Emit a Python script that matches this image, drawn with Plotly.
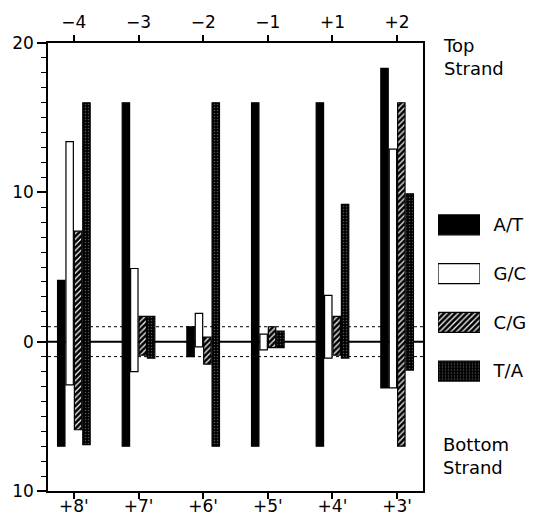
import plotly.graph_objects as go

# ---- data ----
positions = [0, 1, 2, 3, 4, 5]
top_labels = ["\u22124", "\u22123", "\u22122", "\u22121", "+1", "+2"]
bottom_labels = ["+8'", "+7'", "+6'", "+5'", "+4'", "+3'"]
series_names = ["A/T", "G/C", "C/G", "T/A"]

at_top = [4.1, 16.0, 1.0, 16.0, 16.0, 18.3]
at_bottom = [-7.0, -7.0, -1.0, -7.0, -7.0, -3.1]
gc_top = [13.4, 4.9, 1.9, 0.5, 3.1, 12.9]
gc_bottom = [-2.9, -2.0, -0.35, -0.55, -1.1, -3.1]
cg_top = [7.4, 1.7, 0.3, 1.0, 1.7, 16.0]
cg_bottom = [-5.9, -0.9, -1.5, -0.4, -0.9, -7.0]
ta_top = [16.0, 1.7, 16.0, 0.7, 9.2, 9.9]
ta_bottom = [-6.9, -1.1, -7.0, -0.4, -1.1, -1.9]

y_tickvals = [-10, 0, 10, 20]
y_ticktext = ["10", "0", "10", "20"]

FONT = "DejaVu Sans"

styles = {
    "A/T": dict(color="black", pattern=dict(shape="")),
    "G/C": dict(color="white", pattern=dict(shape="")),
    "C/G": dict(color="black", pattern=dict(shape="/", bgcolor="white", fgcolor="black",
                                            size=4, solidity=0.7, fillmode="replace")),
    "T/A": dict(color="black", pattern=dict(shape=".", bgcolor="black", fgcolor="#555555",
                                            size=3, solidity=0.2, fillmode="replace")),
}

fig = go.Figure()

for name, tops, bots in [("A/T", at_top, at_bottom), ("G/C", gc_top, gc_bottom),
                         ("C/G", cg_top, cg_bottom), ("T/A", ta_top, ta_bottom)]:
    st = styles[name]
    fig.add_trace(go.Bar(
        x=positions,
        y=[t - b for t, b in zip(tops, bots)],
        base=bots,
        name=name,
        marker=dict(color=st["color"], pattern=st["pattern"],
                    line=dict(color="black", width=1.2)),
        showlegend=False,
    ))

# invisible trace to activate top axis
fig.add_trace(go.Scatter(x=[None], y=[None], xaxis="x3", yaxis="y",
                         showlegend=False, hoverinfo="skip"))

# legend drawn as a small subplot of horizontal bars
for i, name in enumerate(series_names):
    st = styles[name]
    fig.add_trace(go.Bar(
        x=[1], y=[i], base=[0], orientation="h", width=0.41,
        xaxis="x2", yaxis="y2", offsetgroup="legend", showlegend=False,
        marker=dict(color=st["color"], pattern=st["pattern"],
                    line=dict(color="black", width=1.2)),
    ))

# reference lines
fig.add_hline(y=1, line=dict(color="black", width=1, dash="dot"), layer="below")
fig.add_hline(y=-1, line=dict(color="black", width=1, dash="dot"), layer="below")
fig.add_hline(y=0, line=dict(color="black", width=2), layer="below")

leg_idx = list(range(len(series_names)))
main_end = (423 - 48) / 486
fig.update_layout(
    width=534, height=521,
    margin=dict(l=48, r=0, t=43, b=30),
    paper_bgcolor="white", plot_bgcolor="white",
    barmode="group", bargap=0.48, bargroupgap=0.12,
    font=dict(family=FONT, size=17, color="black"),
    xaxis=dict(domain=[0, main_end], range=[-0.4, 5.4], tickvals=positions,
               ticktext=bottom_labels, showline=True, linecolor="black", linewidth=1.5,
               ticks="outside", ticklen=6, tickwidth=1.5, tickcolor="black",
               ticklabelstandoff=-7,
               showgrid=False, zeroline=False, mirror=False,
               tickfont=dict(size=17)),
    xaxis3=dict(overlaying="x", side="top", anchor="y", range=[-0.4, 5.4],
                tickvals=positions, ticktext=top_labels, showline=True,
                linecolor="black", linewidth=1.5, ticks="outside", ticklen=6,
                tickwidth=1.5, tickcolor="black", showgrid=False, zeroline=False,
                tickfont=dict(size=17)),
    yaxis=dict(range=[-10, 20], tickvals=y_tickvals, ticktext=y_ticktext,
               showline=True, linecolor="black", linewidth=1.5, mirror=True,
               ticks="outside", ticklen=9, tickwidth=1.5, tickcolor="black",
               minor=dict(dtick=1, ticks="outside", ticklen=5, tickwidth=1.2,
                          tickcolor="black", showgrid=False),
               showgrid=False, zeroline=False, tickfont=dict(size=17)),
    xaxis2=dict(domain=[(438 - 48) / 486, (480 - 48) / 486], range=[0, 1],
                visible=False, anchor="y2"),
    yaxis2=dict(domain=[(491 - 395.5) / 448, (491 - 200.5) / 448], range=[3.5, -0.5],
                anchor="x2", side="right", tickvals=leg_idx, ticktext=series_names,
                ticks="outside", ticklen=9, tickcolor="rgba(0,0,0,0)",
                showline=False, showgrid=False, zeroline=False,
                tickfont=dict(size=18)),
)

fig.add_annotation(text="Top<br>Strand", xref="paper", yref="paper",
                   x=(441 - 48) / 486, y=(491 - 57) / 448, xanchor="left",
                   yanchor="middle", align="left", showarrow=False,
                   font=dict(size=18, family=FONT))
fig.add_annotation(text="Bottom<br>Strand", xref="paper", yref="paper",
                   x=(441 - 48) / 486, y=(491 - 455.5) / 448, xanchor="left",
                   yanchor="middle", align="left", showarrow=False,
                   font=dict(size=18, family=FONT))

fig.write_html("out.html", config={"displayModeBar": False},
               post_script="document.body.style.margin='0';document.body.style.overflow='hidden';")
